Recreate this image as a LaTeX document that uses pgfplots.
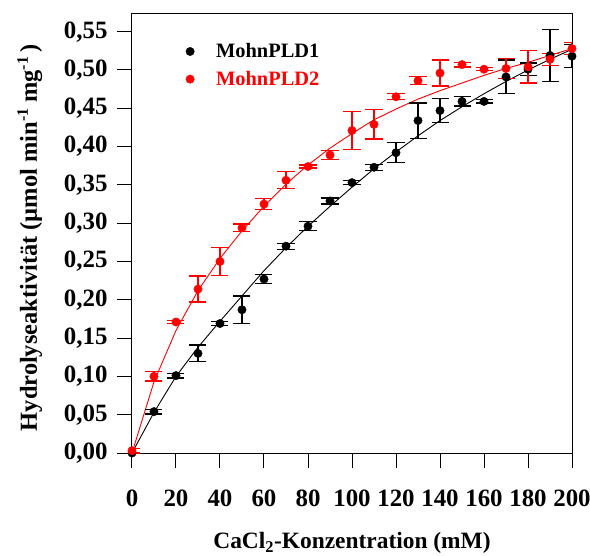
\documentclass[border=0pt]{standalone}
\usepackage{fontspec}
\setmainfont{Liberation Serif}
\usepackage{pgfplots}
\pgfplotsset{compat=1.18}

% x y err
\pgfplotstableread{
x y e
0 0.000 0.000
10 0.054 0.003
20 0.101 0.003
30 0.130 0.011
40 0.169 0.003
50 0.187 0.018
60 0.227 0.006
70 0.270 0.004
80 0.296 0.006
90 0.329 0.004
100 0.353 0.003
110 0.373 0.004
120 0.392 0.013
130 0.434 0.023
140 0.447 0.016
150 0.459 0.006
160 0.459 0.002
170 0.491 0.022
180 0.501 0.008
190 0.519 0.034
200 0.518 0.015
}\pldone

\pgfplotstableread{
x y e
0 0.003 0.003
10 0.100 0.006
20 0.171 0.002
30 0.214 0.017
40 0.250 0.018
50 0.294 0.005
60 0.325 0.007
70 0.356 0.011
80 0.374 0.002
90 0.389 0.006
100 0.421 0.025
110 0.429 0.019
120 0.465 0.004
130 0.486 0.005
140 0.496 0.017
150 0.507 0.003
160 0.501 0.002
170 0.502 0.013
180 0.504 0.021
190 0.514 0.008
200 0.528 0.008
}\pldtwo

% fitted curves
\pgfplotstableread{
x y
0 0
10 0.053
20 0.100
30 0.138
40 0.172
50 0.205
60 0.238
70 0.268
80 0.296
90 0.322
100 0.347
110 0.371
120 0.393
130 0.414
140 0.434
150 0.452
160 0.469
170 0.485
180 0.500
190 0.514
200 0.527
}\fitone

\pgfplotstableread{
x y
0 0
10 0.093
20 0.160
30 0.212
40 0.254
50 0.290
60 0.322
70 0.351
80 0.376
90 0.398
100 0.417
110 0.435
120 0.449
130 0.462
140 0.473
150 0.483
160 0.493
170 0.502
180 0.510
190 0.519
200 0.528
}\fittwo

\newcommand{\hochsup}[1]{\raisebox{9bp}{\fontsize{16}{16}\selectfont #1}}

\begin{document}
\begin{tikzpicture}
\begin{axis}[
  scale only axis, width=440bp, height=439bp,
  xmin=0, xmax=200, ymin=0, ymax=0.5731,
  xtick={0,20,40,60,80,100,120,140,160,180,200},
  ytick={0,0.05,0.1,0.15,0.2,0.25,0.3,0.35,0.4,0.45,0.5,0.55},
  tick align=outside, xtick pos=bottom, ytick pos=left,
  major tick length=15bp,
  tick style={black, line width=1bp},
  axis line style={line width=1bp},
  /pgf/number format/assume math mode=true,
  ticklabel style={font=\fontsize{25}{27}\selectfont\bfseries},
  xticklabel style={yshift=-18bp},
  yticklabel style={xshift=-6bp, /pgf/number format/.cd, fixed, fixed zerofill, precision=2, use comma},
  xlabel={CaCl\textsubscript{2}-Konzentration (mM)},
  ylabel={Hydrolyseaktivität (µmol min\hochsup{-1} mg\hochsup{-1}\hspace{4bp})},
  every axis x label/.style={at={(axis description cs:0.5,-0.205)}, anchor=center,
    font=\fontsize{23.5}{26}\selectfont\bfseries},
  every axis y label/.style={at={(axis description cs:-0.232,0.49)}, rotate=90, anchor=center,
    font=\fontsize{24.5}{27}\selectfont\bfseries},
  legend style={draw=none, fill=none, at={(axis description cs:0.093,0.942)}, anchor=north west,
    font=\fontsize{20.5}{23}\selectfont\bfseries, row sep=8bp},
  legend cell align=left,
  legend image code/.code={\draw[draw=none] (0bp,0bp) -- (38bp,0bp);
    \draw[#1, only marks] plot coordinates {(14bp,0bp)};},
]
\addplot [black, line width=0.9bp, forget plot] table {\fitone};
\addplot [red, line width=0.9bp, forget plot] table {\fittwo};

\addplot [black, only marks, mark=*, mark size=4.2bp,
  error bars/.cd, y dir=both, y explicit,
  error bar style={black, line width=1.2bp},
  error mark options={rotate=90, mark size=8.5bp, line width=1.2bp, black}]
  table [x=x, y=y, y error=e] {\pldone};
\addlegendentry{MohnPLD1}

\addplot [red, only marks, mark=*, mark size=4.2bp,
  error bars/.cd, y dir=both, y explicit,
  error bar style={red, line width=1.2bp},
  error mark options={rotate=90, mark size=8.5bp, line width=1.2bp, red}]
  table [x=x, y=y, y error=e] {\pldtwo};
\addlegendentry{\textcolor{red}{MohnPLD2}}
\end{axis}
\pgfresetboundingbox
\path (-132bp,-103bp) rectangle (458bp,453bp);
\end{tikzpicture}
\end{document}
